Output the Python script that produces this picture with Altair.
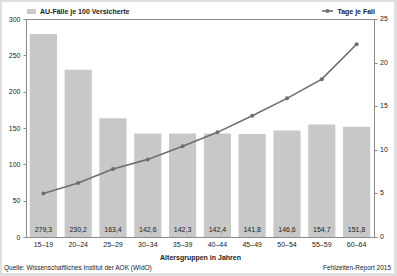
import altair as alt
import pandas as pd

groups = ["15–19", "20–24", "25–29", "30–34", "35–39", "40–44", "45–49", "50–54", "55–59", "60–64"]
au_faelle = [279.3, 230.2, 163.4, 142.6, 142.3, 142.4, 141.8, 146.6, 154.7, 151.8]
tage_je_fall = [5.0, 6.2, 7.8, 8.9, 10.4, 12.0, 13.9, 15.9, 18.1, 22.1]
left_ticks = [0, 50, 100, 150, 200, 250, 300]
right_ticks = [0, 5, 10, 15, 20, 25]

LEFT_MAX = 300
RIGHT_MAX = 25

df = pd.DataFrame({
    "Gruppe": groups,
    "AU": au_faelle,
    "Tage": tage_je_fall,
    "Label": [f"{v:.1f}".replace(".", ",") for v in au_faelle],
})
rt = pd.DataFrame({
    "tl": [v * LEFT_MAX / RIGHT_MAX for v in right_ticks],
    "s": [f"{v:d}" for v in right_ticks],
})
one = pd.DataFrame({"k": [0]})

FONT = "Liberation Sans"
TXT = "#222222"
AX = "#8a8a8a"
BORDER = "#e0e0e0"

xenc = alt.X(
    "Gruppe:N", sort=groups,
    scale=alt.Scale(paddingInner=0.22, paddingOuter=0.11),
    axis=alt.Axis(title="Altersgruppen in Jahren", labelAngle=0, ticks=False,
                  domainColor=AX, labelFontSize=7, labelColor=TXT, labelFont=FONT,
                  labelPadding=3, titleFontSize=7, titleFont=FONT, titleColor=TXT,
                  titleFontWeight="bold", titlePadding=6, zindex=1),
)

left_axis = alt.Axis(title=None, orient="left", values=left_ticks, grid=False,
                     domain=False, tickColor=AX, tickSize=3, labelFontSize=7,
                     labelFont=FONT, labelColor=TXT, labelPadding=3, zindex=1,
                     labelOverlap=False, labelFlush=False)
right_axis = alt.Axis(title=None, orient="right", values=right_ticks, grid=False,
                      domain=False, tickColor=AX, tickSize=3, labels=False, zindex=2)
left_scale = alt.Scale(domain=[0, LEFT_MAX], nice=False)
right_scale = alt.Scale(domain=[0, RIGHT_MAX], nice=False)

strip_top = alt.Chart(one).mark_rect(color=BORDER).encode(
    x=alt.value(-26), x2=alt.value(371), y=alt.value(-19), y2=alt.value(-17))
strip_bottom = alt.Chart(one).mark_rect(color=BORDER).encode(
    x=alt.value(-26), x2=alt.value(371), y=alt.value(254), y2=alt.value(257))
strip_left = alt.Chart(one).mark_rect(color=BORDER).encode(
    x=alt.value(-26), x2=alt.value(-24), y=alt.value(-19), y2=alt.value(257))
strip_right = alt.Chart(one).mark_rect(color=BORDER).encode(
    x=alt.value(368), x2=alt.value(371), y=alt.value(-19), y2=alt.value(257))

base = alt.Chart(df)

bars = base.mark_bar(color="#c8c8c8").encode(
    x=xenc,
    y=alt.Y("AU:Q", scale=left_scale, axis=left_axis),
)

bar_labels = base.mark_text(fontSize=7, font=FONT, color=TXT, baseline="middle", dy=-7).encode(
    x=alt.X("Gruppe:N", sort=groups),
    y=alt.YDatum(0, type="quantitative", scale=left_scale, axis=left_axis),
    text="Label:N",
)

right_labels = alt.Chart(rt).mark_text(align="left", baseline="middle", fontSize=7,
                                       font=FONT, color=TXT).encode(
    x=alt.value(354),
    y=alt.Y("tl:Q", scale=left_scale, axis=left_axis),
    text="s:N",
)

left_layer = alt.layer(bars, bar_labels, right_labels)

line = base.mark_line(color="#6e6e6e", strokeWidth=1.6).encode(
    x=alt.X("Gruppe:N", sort=groups),
    y=alt.Y("Tage:Q", scale=right_scale, axis=right_axis),
)
pts = base.mark_circle(color="#6e6e6e", opacity=1, size=16).encode(
    x=alt.X("Gruppe:N", sort=groups),
    y=alt.Y("Tage:Q", scale=right_scale, axis=right_axis),
)
right_layer = alt.layer(line, pts)

leg_rect = alt.Chart(one).mark_rect(color="#c8c8c8").encode(
    x=alt.value(1), x2=alt.value(10), y=alt.value(-10), y2=alt.value(-5)
)
leg_text1 = alt.Chart(one).mark_text(align="left", baseline="middle", fontSize=7,
                                     font=FONT, fontWeight="bold", color=TXT,
                                     text="AU-Fälle je 100 Versicherte").encode(
    x=alt.value(14), y=alt.value(-7.5)
)
leg_line = alt.Chart(one).mark_rule(color="#6e6e6e", strokeWidth=1.6).encode(
    x=alt.value(296), x2=alt.value(307), y=alt.value(-8)
)
leg_pt = alt.Chart(one).mark_circle(color="#6e6e6e", opacity=1, size=16).encode(
    x=alt.value(301.5), y=alt.value(-8)
)
leg_text2 = alt.Chart(one).mark_text(align="right", baseline="middle", fontSize=7,
                                     font=FONT, fontWeight="bold", color=TXT,
                                     text="Tage je Fall").encode(
    x=alt.value(349), y=alt.value(-7.5)
)
src = alt.Chart(one).mark_text(align="left", baseline="middle", fontSize=6.5, font=FONT,
                               color=TXT,
                               text="Quelle: Wissenschaftliches Institut der AOK (WIdO)").encode(
    x=alt.value(-22), y=alt.value(248.5)
)
rep = alt.Chart(one).mark_text(align="right", baseline="middle", fontSize=6.5, font=FONT,
                               color=TXT, text="Fehlzeiten-Report 2015").encode(
    x=alt.value(365), y=alt.value(248.5)
)

main = alt.layer(left_layer, right_layer).resolve_scale(y="independent")

chart = alt.layer(
    main, strip_top, strip_bottom, strip_left, strip_right,
    leg_rect, leg_text1, leg_line, leg_pt, leg_text2, src, rep
).resolve_scale(y="independent").properties(
    width=348, height=218,
    autosize=alt.AutoSizeParams(type="none"),
    padding={"left": 26, "top": 19, "right": 23, "bottom": 39},
    background="white",
).configure_view(stroke=AX, strokeWidth=1)

chart.save("out.html", embed_options={"renderer": "svg", "actions": False})
